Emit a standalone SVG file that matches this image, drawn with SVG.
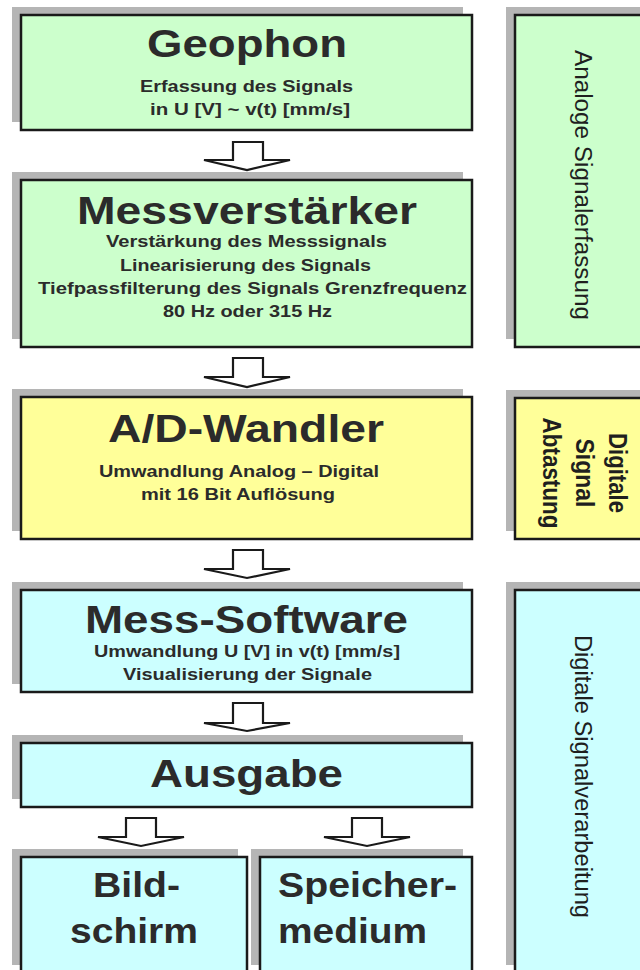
<svg xmlns="http://www.w3.org/2000/svg" width="640" height="970" viewBox="0 0 640 970">
<style>
.sh{fill:#b5b5b5}
.box{stroke:#1a1a1a;stroke-width:2.5}
.g{fill:#ccffcc}
.y{fill:#ffff99}
.c{fill:#ccffff}
text{font-family:"Liberation Sans",Arial,sans-serif;fill:#2b2b2b;font-weight:bold}
.t{font-size:38px;text-anchor:middle}
.s{font-size:16px;text-anchor:middle}
.b{font-size:35px;text-anchor:middle}
.r{font-weight:normal;font-size:23px;text-anchor:middle;fill:#1f1f1f}
.rb{font-size:25px;text-anchor:middle;fill:#1f1f1f}
.arr{fill:#ffffff;stroke:#1a1a1a;stroke-width:2.2;stroke-linejoin:miter}
</style>
<rect width="640" height="970" fill="#ffffff"/>

<g id="geophon">
<rect class="sh" x="12" y="7" width="451" height="115"/>
<rect class="box g" x="21" y="15" width="451" height="115"/>
<text class="t" x="247" y="57" textLength="200" lengthAdjust="spacingAndGlyphs">Geophon</text>
<text class="s" x="246.5" y="92" textLength="213" lengthAdjust="spacingAndGlyphs">Erfassung des Signals</text>
<text class="s" x="250" y="115" textLength="200" lengthAdjust="spacingAndGlyphs">in U [V] ~ v(t) [mm/s]</text>
</g>

<g id="messverstaerker">
<rect class="sh" x="12" y="172" width="451" height="167"/>
<rect class="box g" x="21" y="180" width="451" height="167"/>
<text class="t" x="247" y="224" textLength="340" lengthAdjust="spacingAndGlyphs">Messverstärker</text>
<text class="s" x="246.5" y="247" textLength="281" lengthAdjust="spacingAndGlyphs">Verstärkung des Messsignals</text>
<text class="s" x="245.5" y="271" textLength="251" lengthAdjust="spacingAndGlyphs">Linearisierung des Signals</text>
<text class="s" x="252.5" y="294" textLength="429" lengthAdjust="spacingAndGlyphs">Tiefpassfilterung des Signals Grenzfrequenz</text>
<text class="s" x="247.5" y="317" textLength="169" lengthAdjust="spacingAndGlyphs">80 Hz oder 315 Hz</text>
</g>

<g id="ad-wandler">
<rect class="sh" x="12" y="389" width="451" height="142"/>
<rect class="box y" x="21" y="397" width="451" height="142"/>
<text class="t" x="246" y="442" textLength="276" lengthAdjust="spacingAndGlyphs">A/D-Wandler</text>
<text class="s" x="239" y="477" textLength="280" lengthAdjust="spacingAndGlyphs">Umwandlung Analog – Digital</text>
<text class="s" x="238" y="500" textLength="194" lengthAdjust="spacingAndGlyphs">mit 16 Bit Auflösung</text>
</g>

<g id="mess-software">
<rect class="sh" x="12" y="582" width="451" height="102"/>
<rect class="box c" x="21" y="590" width="451" height="102"/>
<text class="t" x="246.5" y="633" textLength="323" lengthAdjust="spacingAndGlyphs">Mess-Software</text>
<text class="s" x="247" y="657" textLength="306" lengthAdjust="spacingAndGlyphs">Umwandlung U [V] in v(t) [mm/s]</text>
<text class="s" x="247.5" y="680" textLength="249" lengthAdjust="spacingAndGlyphs">Visualisierung der Signale</text>
</g>

<g id="ausgabe">
<rect class="sh" x="12" y="735" width="451" height="64"/>
<rect class="box c" x="21" y="743" width="451" height="64"/>
<text class="t" x="246.5" y="787" textLength="193" lengthAdjust="spacingAndGlyphs">Ausgabe</text>
</g>

<g id="bildschirm">
<rect class="sh" x="12" y="849" width="226" height="116"/>
<rect class="box c" x="21" y="857" width="226" height="125"/>
<text class="b" x="136.5" y="897" textLength="87" lengthAdjust="spacingAndGlyphs">Bild-</text>
<text class="b" x="134" y="943" textLength="128" lengthAdjust="spacingAndGlyphs">schirm</text>
</g>

<g id="speichermedium">
<rect class="sh" x="251" y="849" width="212" height="116"/>
<rect class="box c" x="260" y="857" width="212" height="125"/>
<text class="b" x="278" y="897" style="text-anchor:start" textLength="179" lengthAdjust="spacingAndGlyphs">Speicher-</text>
<text class="b" x="278" y="943" style="text-anchor:start" textLength="149" lengthAdjust="spacingAndGlyphs">medium</text>
</g>

<g id="analoge-signalerfassung">
<rect class="sh" x="506" y="7" width="150" height="332"/>
<rect class="box g" x="515" y="15" width="150" height="332"/>
<text class="r" transform="translate(575,185) rotate(90)" textLength="270" lengthAdjust="spacingAndGlyphs">Analoge Signalerfassung</text>
</g>

<g id="digitale-signal-abtastung">
<rect class="sh" x="506" y="390" width="150" height="141"/>
<rect class="box y" x="515" y="398" width="150" height="141"/>
<text class="rb" transform="translate(609,473) rotate(90)" textLength="80" lengthAdjust="spacingAndGlyphs">Digitale</text>
<text class="rb" transform="translate(576,473) rotate(90)" textLength="69" lengthAdjust="spacingAndGlyphs">Signal</text>
<text class="rb" transform="translate(543,473) rotate(90)" textLength="111" lengthAdjust="spacingAndGlyphs">Abtastung</text>
</g>

<g id="digitale-signalverarbeitung">
<rect class="sh" x="506" y="582" width="150" height="383"/>
<rect class="box c" x="515" y="590" width="150" height="392"/>
<text class="r" transform="translate(575,776.5) rotate(90)" textLength="283" lengthAdjust="spacingAndGlyphs">Digitale Signalverarbeitung</text>
</g>

<g id="connectors">
<polygon class="arr" points="233,142 263,142 263,160 290,160 247,170 204,160 233,160"/>
<polygon class="arr" points="233,358 263,358 263,377 290,377 247,387 204,377 233,377"/>
<polygon class="arr" points="233,550 263,550 263,569 290,569 247,578 204,569 233,569"/>
<polygon class="arr" points="233,703 263,703 263,723 290,723 247,731 204,723 233,723"/>
<polygon class="arr" points="126,818 156,818 156,837 184,837 141,846 98,837 126,837"/>
<polygon class="arr" points="352,818 382,818 382,837 410,837 367,846 324,837 352,837"/>
</g>
</svg>
